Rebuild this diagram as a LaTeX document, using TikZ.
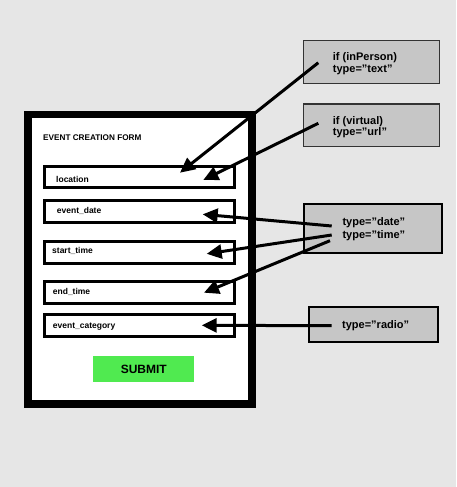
\documentclass[tikz,border=0pt]{standalone}
\usepackage{fontspec}
\setmainfont{Liberation Sans}
\usetikzlibrary{arrows.meta,calc}
\definecolor{bg}{HTML}{E6E6E6}
\definecolor{boxgray}{HTML}{C6C6C6}
\definecolor{btngreen}{RGB}{80,234,80}
\definecolor{edgegray}{HTML}{333333}
\begin{document}
\begin{tikzpicture}[x=1pt,y=-1pt,
  formframe/.style={draw=black, line width=7.7pt, fill=white, inner sep=0pt,
    minimum width=224.4pt, minimum height=289.2pt},
  field/.style={draw=black, line width=2.6pt, fill=white, inner sep=0pt,
    minimum width=190pt, minimum height=22pt},
  flabel/.style={anchor=base west, inner sep=0pt, font=\fontsize{8.5}{10}\selectfont\bfseries},
  title/.style={anchor=base west, inner sep=0pt, font=\fontsize{8.2}{10}\selectfont\bfseries},
  button/.style={fill=btngreen, inner sep=0pt, minimum width=101pt, minimum height=26.3pt},
  btntext/.style={anchor=base, inner sep=0pt, font=\fontsize{12}{14}\selectfont\bfseries},
  notethin/.style={fill=boxgray, draw=edgegray, line width=1.3pt, inner sep=0pt},
  notethick/.style={fill=boxgray, draw=black, line width=2pt, inner sep=0pt},
  notetext/.style={align=left, inner sep=0pt, font=\fontsize{11}{11.7}\selectfont\bfseries},
  conn/.style={line width=3pt, -{Triangle[length=15pt,width=14pt]}}
]
\fill[bg] (0,0) rectangle (456,487);
\useasboundingbox (0,0) rectangle (456,487);

% form
\node[formframe] (form) at (140,259.2) {};
\node[title] (ttl) at (43,140.7) {EVENT CREATION FORM};

\node[field, minimum height=21.4pt] (loc) at (139.7,177) {};
\node[field, minimum height=22.4pt] (date) at (139.7,211.5) {};
\node[field] (start) at (139.7,252.3) {};
\node[field] (endt) at (139.7,292.3) {};
\node[field] (cat) at (139.7,325.7) {};

\node[flabel] (locl) at (56,182) {location};
\node[flabel] (datel) at (56.7,213.3) {event\_date};
\node[flabel] (startl) at (52,253.3) {start\_time};
\node[flabel] (endl) at (52.7,294.3) {end\_time};
\node[flabel] (catl) at (52.7,328.3) {event\_category};

\node[button] (submit) at (143.8,369.2) {};
\node[btntext] (submitl) at (143.8,373.3) {SUBMIT};

% notes
\node[notethin, minimum width=135.8pt, minimum height=42.8pt] (n1) at (371.5,62) {};
\node[notethin, minimum width=135.8pt, minimum height=42.8pt] (n2) at (371.5,125.3) {};
\node[notethick, minimum width=138pt, minimum height=49.3pt] (n3) at (373.3,228.3) {};
\node[notethick, minimum width=129.6pt, minimum height=35.3pt] (n4) at (373.5,324.7) {};

\node[notetext, anchor=west] (n1t) at (332.7,64) {if (inPerson)\\type=”text”};
\node[notetext, anchor=west] (n2t) at (332.7,127.3) {if (virtual)\\type=”url”};
\node[notetext, anchor=west, font=\fontsize{11}{13.3}\selectfont\bfseries] (n3t) at (342.3,229.5) {type=”date”\\type=”time”};
\node[notetext, anchor=base west] (n4t) at (342,328.5) {type=”radio”};

% connectors
\draw[conn] ($(n1.center)+(-53.2,0.7)$) -- ($(loc.center)+(40.3,-4.3)$);
\draw[conn] ($(n2.center)+(-53.2,-2)$) -- ($(loc.center)+(63.6,3)$);
\draw[conn] ($(n3.center)+(-41.6,-2.3)$) -- ($(date.center)+(63,2.8)$);
\draw[conn] ($(n3.center)+(-41.6,6.7)$) -- ($(start.center)+(67,1.5)$);
\draw[conn] ($(n3.center)+(-43.3,12.4)$) -- ($(endt.center)+(64.3,0.4)$);
\draw[conn] ($(n4.center)+(-41.8,1)$) -- ($(cat.center)+(62,-0.4)$);
\end{tikzpicture}
\end{document}
